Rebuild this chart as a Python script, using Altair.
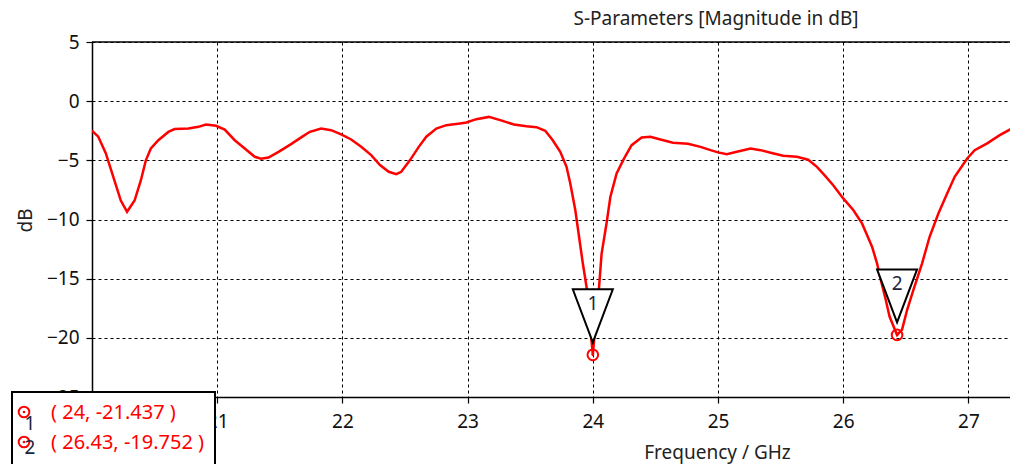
import altair as alt
import pandas as pd

# ---- curve data (S11 magnitude in dB) ----
freq = [20.00, 20.05, 20.11, 20.17, 20.23, 20.28, 20.34, 20.39, 20.43, 20.47,
        20.53, 20.61, 20.66, 20.77, 20.85, 20.91, 20.99, 21.06, 21.14, 21.22,
        21.30, 21.35, 21.41, 21.49, 21.59, 21.68, 21.74, 21.83, 21.91, 21.99,
        22.07, 22.15, 22.23, 22.30, 22.37, 22.43, 22.47, 22.54, 22.61, 22.67,
        22.75, 22.83, 22.94, 22.99, 23.07, 23.17, 23.26, 23.37, 23.47, 23.55,
        23.62, 23.68, 23.74, 23.79, 23.82, 23.86, 23.89, 23.92, 23.95, 23.975,
        24.00, 24.025, 24.05, 24.07, 24.11, 24.14, 24.19, 24.25, 24.31, 24.39,
        24.46, 24.54, 24.64, 24.76, 24.86, 24.94, 25.00, 25.07, 25.15, 25.26,
        25.34, 25.42, 25.52, 25.63, 25.72, 25.79, 25.85, 25.92, 26.00, 26.08,
        26.15, 26.19, 26.23, 26.27, 26.30, 26.34, 26.37, 26.43, 26.47, 26.51,
        26.56, 26.63, 26.69, 26.76, 26.83, 26.89, 26.99, 27.05, 27.15, 27.25,
        27.40]
db = [-2.5, -3.0, -4.4, -6.4, -8.4, -9.35, -8.4, -6.7, -5.0, -4.0,
      -3.3, -2.6, -2.36, -2.3, -2.17, -1.97, -2.08, -2.4, -3.3, -4.0,
      -4.7, -4.87, -4.76, -4.28, -3.63, -3.0, -2.59, -2.31, -2.45, -2.81,
      -3.24, -3.86, -4.56, -5.4, -5.97, -6.17, -5.97, -4.98, -3.86, -3.0,
      -2.31, -2.03, -1.88, -1.8, -1.52, -1.33, -1.6, -1.97, -2.11, -2.2,
      -2.5, -3.3, -4.28, -5.55, -6.95, -9.2, -11.46, -13.7, -15.7, -18.6,
      -21.437, -18.4, -15.7, -12.9, -10.3, -8.1, -6.1, -4.84, -3.72, -3.07,
      -3.01, -3.24, -3.52, -3.6, -3.86, -4.14, -4.33, -4.48, -4.28, -4.0,
      -4.14, -4.36, -4.62, -4.7, -4.95, -5.55, -6.25, -7.1, -8.22, -9.2,
      -10.33, -11.3, -12.3, -13.7, -15.1, -16.8, -18.2, -19.752, -19.3, -17.65,
      -15.96, -13.7, -11.46, -9.49, -7.8, -6.39, -4.84, -4.14, -3.57, -2.87,
      -2.0]

# ---- markers ----
marker_ids = ["1", "2"]
marker_freq = [24, 26.43]
marker_db = [-21.437, -19.752]

# ---- axes ----
x_ticks = [20, 21, 22, 23, 24, 25, 26, 27]
y_ticks = [-25, -20, -15, -10, -5, 0, 5]
x_domain = [20, 27.332]
y_domain = [-25, 5]

title_text = "S-Parameters [Magnitude in dB]"
x_title = "Frequency / GHz"
y_title = "dB"

FONT = "Noto Sans"
RED = "#ff0000"
INK = "#111111"
W, H = 918, 355

curve = pd.DataFrame({"freq": freq, "db": db})
mk = pd.DataFrame({
    "id": marker_ids,
    "freq": marker_freq,
    "db": marker_db,
    "label": [f"( {f:g}, {d:g} )" for f, d in zip(marker_freq, marker_db)],
})

x_enc = alt.X("freq:Q",
              scale=alt.Scale(domain=x_domain, nice=False, zero=False),
              axis=alt.Axis(values=x_ticks, title=x_title, format="d",
                            titleX=625, titleY=55, titleAlign="center",
                            titleBaseline="middle"))
y_enc = alt.Y("db:Q",
              scale=alt.Scale(domain=y_domain, nice=False, zero=False),
              axis=alt.Axis(values=y_ticks, title=y_title, format="d",
                            titleX=-67, titleY=178, titleAlign="center",
                            titleBaseline="middle", titleAngle=270))

line = alt.Chart(curve).mark_line(color=RED, strokeWidth=2.5, clip=True).encode(x=x_enc, y=y_enc)

# top frame line (the plot continues past the right edge, so no right border)
frame_top = alt.Chart(pd.DataFrame({"k": [0]})).mark_rule(
    color="black", strokeWidth=1.5).encode(
    x=alt.value(0), x2=alt.value(W), y=alt.value(0))

mk_base = alt.Chart(mk)
mk_circle = mk_base.mark_point(shape="circle", size=113, filled=False,
                               stroke=RED, strokeWidth=2, opacity=1).encode(
    x="freq:Q", y="db:Q")
mk_dot = mk_base.mark_point(shape="circle", size=7, filled=True,
                            color=RED, opacity=1).encode(x="freq:Q", y="db:Q")
tri_shape = "M-0.755,-1L0.755,-1L0,1Z"
mk_tri = mk_base.mark_point(shape=tri_shape, size=2809, filled=True, fill="white",
                            stroke="black", strokeWidth=2, opacity=1,
                            yOffset=-39).encode(x="freq:Q", y="db:Q")
mk_num = mk_base.mark_text(font=FONT, fontSize=19, color="#1c2540", dy=-51,
                           baseline="middle", align="center").encode(
    x="freq:Q", y="db:Q", text="id:N")

# ---- marker legend box (bottom-left) ----
box = alt.Chart(pd.DataFrame({"k": [0]})).mark_rect(
    fill="white", stroke="black", strokeWidth=2).encode(
    x=alt.value(-80), x2=alt.value(123), y=alt.value(350), y2=alt.value(440))

legend_layers = []
for i, mid in enumerate(marker_ids):
    row = alt.Chart(mk).transform_filter(alt.datum.id == mid)
    cy = 370 + 30 * i
    legend_layers.append(row.mark_point(shape="circle", size=113, filled=False,
                                        stroke=RED, strokeWidth=2, opacity=1).encode(
        x=alt.value(-68), y=alt.value(cy)))
    legend_layers.append(row.mark_point(shape="circle", size=7, filled=True,
                                        color=RED, opacity=1).encode(
        x=alt.value(-68), y=alt.value(cy)))
    legend_layers.append(row.mark_text(font=FONT, fontSize=19, color="#1c2540",
                                       align="center", baseline="middle").encode(
        x=alt.value(-62), y=alt.value(382 + 24 * i), text="id:N"))
    legend_layers.append(row.mark_text(font=FONT, fontSize=20, color=RED,
                                       align="left", baseline="middle").encode(
        x=alt.value(-41), y=alt.value(cy + 1), text="label:N"))

chart = alt.layer(line, frame_top, mk_circle, mk_dot, mk_tri, mk_num, box,
                  *legend_layers).properties(
    width=W, height=H,
    background="white",
    autosize=alt.AutoSizeParams(type="none"),
    padding={"left": 84, "top": 34, "right": 0, "bottom": 67},
    title=alt.TitleParams(title_text, anchor="middle", dx=165, offset=4,
                          font=FONT, fontSize=19, fontWeight="normal", color="#222222"),
).configure_view(
    stroke=None
).configure_axis(
    grid=True, gridColor="black", gridDash=[3, 3], gridWidth=1, gridOpacity=1,
    domainColor="black", domainWidth=1.5, tickColor="black", tickSize=6, tickWidth=1.2,
    labelFont=FONT, labelFontSize=19, labelColor=INK, labelFlush=False,
    titleFont=FONT, titleFontSize=19, titleFontWeight="normal", titleColor="#222222",
).configure_axisX(
    labelPadding=9
).configure_axisY(
    labelPadding=7
)

chart.save("out.html", embed_options={"renderer": "svg", "actions": False})
